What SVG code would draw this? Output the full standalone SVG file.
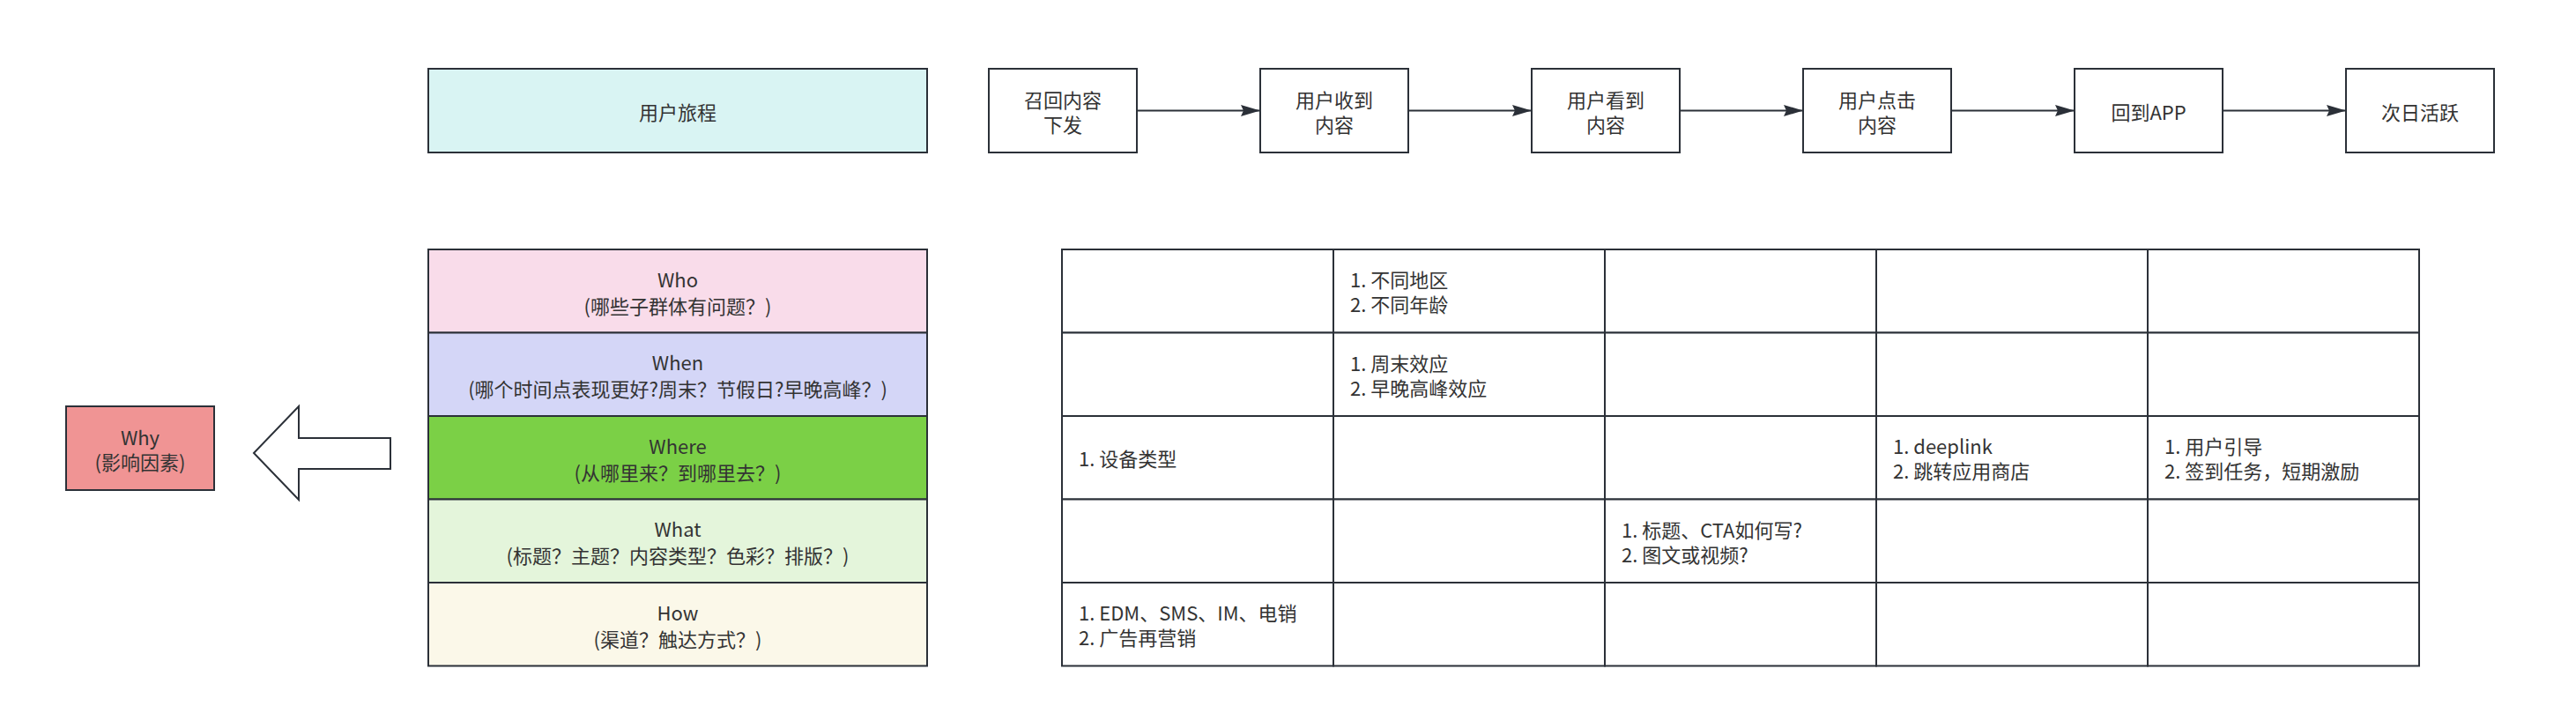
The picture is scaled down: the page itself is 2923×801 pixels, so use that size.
<svg xmlns="http://www.w3.org/2000/svg" width="2923" height="801" viewBox="0 0 2923 801">
<style>
  text { font-family: "Noto Sans CJK SC", "Noto Sans", "Liberation Sans", sans-serif; font-size: 22px; fill: #333333; dominant-baseline: central; }
  .c { text-anchor: middle; }
  .l { text-anchor: start; }
  .box { stroke: #2B3038; stroke-width: 2; }
  .conn { stroke: #2B3038; stroke-width: 2; fill: none; }
</style>
<defs>
  <marker id="arrow" viewBox="0 0 22 13" refX="22" refY="6.5" markerWidth="22" markerHeight="13" markerUnits="userSpaceOnUse" orient="auto">
    <path d="M0,0 L22,6.5 L0,13 L3,6.5 Z" fill="#2B3038"/>
  </marker>
</defs>
<rect width="2923" height="801" fill="#ffffff"/>

<g id="journey-label">
  <rect class="box" x="486" y="78" width="566" height="95" fill="#D9F4F3"/>
  <text class="c" x="769" y="125.5">用户旅程</text>
</g>

<g id="step1">
  <rect class="box" x="1122" y="78" width="168" height="95" fill="#ffffff"/>
  <text class="c" x="1206" y="112">召回内容</text>
  <text class="c" x="1206" y="140">下发</text>
</g>
<g id="step2">
  <rect class="box" x="1430" y="78" width="168" height="95" fill="#ffffff"/>
  <text class="c" x="1514" y="112">用户收到</text>
  <text class="c" x="1514" y="140">内容</text>
</g>
<g id="step3">
  <rect class="box" x="1738" y="78" width="168" height="95" fill="#ffffff"/>
  <text class="c" x="1822" y="112">用户看到</text>
  <text class="c" x="1822" y="140">内容</text>
</g>
<g id="step4">
  <rect class="box" x="2046" y="78" width="168" height="95" fill="#ffffff"/>
  <text class="c" x="2130" y="112">用户点击</text>
  <text class="c" x="2130" y="140">内容</text>
</g>
<g id="step5">
  <rect class="box" x="2354" y="78" width="168" height="95" fill="#ffffff"/>
  <text class="c" x="2438" y="125.5">回到APP</text>
</g>
<g id="step6">
  <rect class="box" x="2662" y="78" width="168" height="95" fill="#ffffff"/>
  <text class="c" x="2746" y="125.5">次日活跃</text>
</g>

<g id="connectors">
  <line class="conn" x1="1290" y1="125.5" x2="1430" y2="125.5" marker-end="url(#arrow)"/>
  <line class="conn" x1="1598" y1="125.5" x2="1738" y2="125.5" marker-end="url(#arrow)"/>
  <line class="conn" x1="1906" y1="125.5" x2="2046" y2="125.5" marker-end="url(#arrow)"/>
  <line class="conn" x1="2214" y1="125.5" x2="2354" y2="125.5" marker-end="url(#arrow)"/>
  <line class="conn" x1="2522" y1="125.5" x2="2662" y2="125.5" marker-end="url(#arrow)"/>
</g>

<g id="who">
  <rect class="box" x="486" y="283" width="566" height="94.5" fill="#F9DCEA"/>
  <text class="c" x="769" y="316">Who</text>
  <text class="c" x="769" y="346">(哪些子群体有问题？)</text>
</g>
<g id="when">
  <rect class="box" x="486" y="377.5" width="566" height="94.5" fill="#D4D6F7"/>
  <text class="c" x="769" y="410">When</text>
  <text class="c" x="769" y="440">(哪个时间点表现更好?周末？节假日?早晚高峰？)</text>
</g>
<g id="where">
  <rect class="box" x="486" y="472" width="566" height="94.5" fill="#7BD046"/>
  <text class="c" x="769" y="505">Where</text>
  <text class="c" x="769" y="535">(从哪里来？到哪里去？)</text>
</g>
<g id="what">
  <rect class="box" x="486" y="566.5" width="566" height="94.5" fill="#E4F5DB"/>
  <text class="c" x="769" y="599">What</text>
  <text class="c" x="769" y="629">(标题？主题？内容类型？色彩？排版？)</text>
</g>
<g id="how">
  <rect class="box" x="486" y="661" width="566" height="94.5" fill="#FBF8E9"/>
  <text class="c" x="769" y="694">How</text>
  <text class="c" x="769" y="724">(渠道？触达方式？)</text>
</g>

<g id="why">
  <rect class="box" x="75" y="461" width="168" height="95" fill="#F09494"/>
  <text class="c" x="159" y="495">Why</text>
  <text class="c" x="159" y="523">(影响因素)</text>
</g>

<g id="big-arrow">
  <polygon class="box" points="288,514 339,461 339,497 443,497 443,532 339,532 339,567" fill="#ffffff"/>
</g>

<g id="matrix">
  <g>
    <rect class="box" x="1205" y="283" width="308" height="94.5" fill="#ffffff"/>
    <rect class="box" x="1513" y="283" width="308" height="94.5" fill="#ffffff"/>
    <rect class="box" x="1821" y="283" width="308" height="94.5" fill="#ffffff"/>
    <rect class="box" x="2129" y="283" width="308" height="94.5" fill="#ffffff"/>
    <rect class="box" x="2437" y="283" width="308" height="94.5" fill="#ffffff"/>
    <rect class="box" x="1205" y="377.5" width="308" height="94.5" fill="#ffffff"/>
    <rect class="box" x="1513" y="377.5" width="308" height="94.5" fill="#ffffff"/>
    <rect class="box" x="1821" y="377.5" width="308" height="94.5" fill="#ffffff"/>
    <rect class="box" x="2129" y="377.5" width="308" height="94.5" fill="#ffffff"/>
    <rect class="box" x="2437" y="377.5" width="308" height="94.5" fill="#ffffff"/>
    <rect class="box" x="1205" y="472" width="308" height="94.5" fill="#ffffff"/>
    <rect class="box" x="1513" y="472" width="308" height="94.5" fill="#ffffff"/>
    <rect class="box" x="1821" y="472" width="308" height="94.5" fill="#ffffff"/>
    <rect class="box" x="2129" y="472" width="308" height="94.5" fill="#ffffff"/>
    <rect class="box" x="2437" y="472" width="308" height="94.5" fill="#ffffff"/>
    <rect class="box" x="1205" y="566.5" width="308" height="94.5" fill="#ffffff"/>
    <rect class="box" x="1513" y="566.5" width="308" height="94.5" fill="#ffffff"/>
    <rect class="box" x="1821" y="566.5" width="308" height="94.5" fill="#ffffff"/>
    <rect class="box" x="2129" y="566.5" width="308" height="94.5" fill="#ffffff"/>
    <rect class="box" x="2437" y="566.5" width="308" height="94.5" fill="#ffffff"/>
    <rect class="box" x="1205" y="661" width="308" height="94.5" fill="#ffffff"/>
    <rect class="box" x="1513" y="661" width="308" height="94.5" fill="#ffffff"/>
    <rect class="box" x="1821" y="661" width="308" height="94.5" fill="#ffffff"/>
    <rect class="box" x="2129" y="661" width="308" height="94.5" fill="#ffffff"/>
    <rect class="box" x="2437" y="661" width="308" height="94.5" fill="#ffffff"/>
  </g>
  <g id="cell-who-receive">
    <text class="l" x="1532" y="316">1. 不同地区</text>
    <text class="l" x="1532" y="344">2. 不同年龄</text>
  </g>
  <g id="cell-when-receive">
    <text class="l" x="1532" y="411">1. 周末效应</text>
    <text class="l" x="1532" y="439">2. 早晚高峰效应</text>
  </g>
  <g id="cell-where-send">
    <text class="l" x="1224" y="519">1. 设备类型</text>
  </g>
  <g id="cell-where-click">
    <text class="l" x="2148" y="505">1. deeplink</text>
    <text class="l" x="2148" y="533">2. 跳转应用商店</text>
  </g>
  <g id="cell-where-app">
    <text class="l" x="2456" y="505">1. 用户引导</text>
    <text class="l" x="2456" y="533">2. 签到任务，短期激励</text>
  </g>
  <g id="cell-what-see">
    <text class="l" x="1840" y="600">1. 标题、CTA如何写?</text>
    <text class="l" x="1840" y="628">2. 图文或视频?</text>
  </g>
  <g id="cell-how-send">
    <text class="l" x="1224" y="694">1. EDM、SMS、IM、电销</text>
    <text class="l" x="1224" y="722">2. 广告再营销</text>
  </g>
</g>
</svg>
